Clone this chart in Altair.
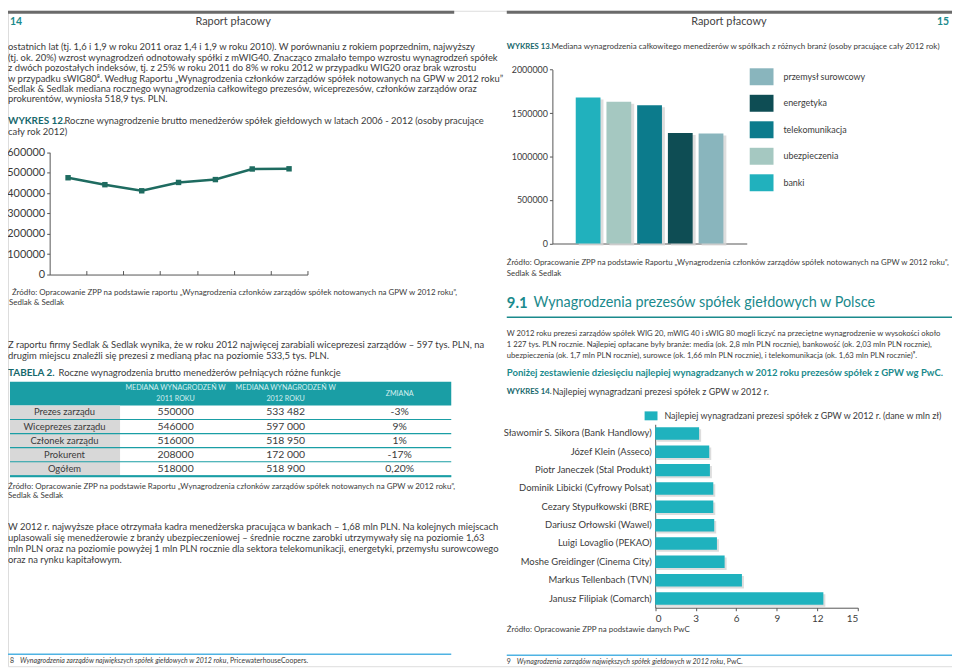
import altair as alt
import pandas as pd

# ---------------- data ----------------
years = ["2006", "2007", "2008", "2009", "2010", "2011", "2012"]
salary = [475000, 441000, 411000, 452000, 466000, 518000, 518900]
salary_ticks = [0, 100000, 200000, 300000, 400000, 500000, 600000]

sectors = ["banki", "ubezpieczenia", "telekomunikacja", "energetyka", "przemysł surowcowy"]
sector_values = [1680000, 1630000, 1590000, 1270000, 1265000]
sector_colors = ["#21b1bd", "#a5c8c1", "#0c7b8c", "#0e4d54", "#89b5bd"]
legend_order = ["przemysł surowcowy", "energetyka", "telekomunikacja", "ubezpieczenia", "banki"]
sector_ticks = [0, 500000, 1000000, 1500000, 2000000]

ceo_names = [
    "Sławomir S. Sikora (Bank Handlowy)",
    "Józef Klein (Asseco)",
    "Piotr Janeczek (Stal Produkt)",
    "Dominik Libicki (Cyfrowy Polsat)",
    "Cezary Stypułkowski (BRE)",
    "Dariusz Orłowski (Wawel)",
    "Luigi Lovaglio (PEKAO)",
    "Moshe Greidinger (Cinema City)",
    "Markus Tellenbach (TVN)",
    "Janusz Filipiak (Comarch)",
]
ceo_pay = [3.25, 4.0, 4.05, 4.3, 4.3, 4.37, 4.57, 5.14, 6.42, 12.45]
ceo_ticks = [0, 3, 6, 9, 12, 15]

roles = ["Prezes zarządu", "Wiceprezes zarządu", "Członek zarządu", "Prokurent", "Ogółem"]
median_2011 = ["550000", "546000", "516000", "208000", "518000"]
median_2012 = ["533 482", "597 000", "518 950", "172 000", "518 900"]
change = ["-3%", "9%", "1%", "-17%", "0,20%"]

# ---------------- style ----------------
FONT = "Lato"
TXT = "#3b3b3b"
AX = "#555555"
TEAL_H = "#17686c"
TEAL_P = "#1a8a8c"
TEAL_T = "#1a9ea5"
LINE_C = "#1e6b60"
BAR14 = "#1fb2be"
SHADOW = "#d4d4d4"
W, H = 952, 661

ONE = pd.DataFrame({"k": [0]})
layers = []


def T(x, y, s, size=9, color=TXT, weight="normal", style="normal", align="left", font=FONT):
    layers.append(
        alt.Chart(ONE).mark_text(align=align, baseline="middle", font=font, fontSize=size,
                                 color=color, fontWeight=weight, fontStyle=style)
        .encode(x=alt.value(x), y=alt.value(y), text=alt.value(s))
    )


def R(x1, x2, y, color, width=1.0):
    layers.append(
        alt.Chart(ONE).mark_rule(color=color, strokeWidth=width)
        .encode(x=alt.value(x1), x2=alt.value(x2), y=alt.value(y))
    )


def B(x1, x2, y1, y2, color):
    layers.append(
        alt.Chart(ONE).mark_rect(color=color)
        .encode(x=alt.value(x1), x2=alt.value(x2), y=alt.value(y1), y2=alt.value(y2))
    )


# ---------------- page header ----------------
B(0, 450, 0, 3, "#6a6a6a")
B(503, W, 0, 3, "#6a6a6a")
T(2, 11, "14", size=10.5, color=TEAL_P, weight="bold")
T(227, 11, "Raport płacowy", size=11, color="#444444", align="center")
T(727, 11, "Raport płacowy", size=11, color="#444444", align="center")
T(949, 11, "15", size=10.5, color=TEAL_P, weight="bold", align="right")

# ---------------- left column text ----------------
BODY_L = 9.5
p1 = [
    "ostatnich lat (tj. 1,6 i 1,9 w roku 2011 oraz 1,4 i 1,9 w roku 2010). W porównaniu z rokiem poprzednim, najwyższy",
    "(tj. ok. 20%) wzrost wynagrodzeń odnotowały spółki z mWIG40. Znacząco zmalało tempo wzrostu wynagrodzeń spółek",
    "z dwóch pozostałych indeksów, tj. z 25% w roku 2011 do 8% w roku 2012 w przypadku WIG20 oraz brak wzrostu",
    "w przypadku sWIG80⁸. Według Raportu „Wynagrodzenia członków zarządów spółek notowanych na GPW w 2012 roku”",
    "Sedlak & Sedlak mediana rocznego wynagrodzenia całkowitego prezesów, wiceprezesów, członków zarządów oraz",
    "prokurentów, wyniosła 518,9 tys. PLN.",
]
for i, s in enumerate(p1):
    T(0, 37 + i * 10.45, s, size=BODY_L)

T(0, 111, "WYKRES 12.", size=10, color=TEAL_H, weight="bold")
T(57, 111, "Roczne wynagrodzenie brutto menedżerów spółek giełdowych w latach 2006 - 2012 (osoby pracujące", size=BODY_L)
T(0, 122, "cały rok 2012)", size=BODY_L)

T(4, 285, "Źródło: Opracowanie ZPP na podstawie raportu „Wynagrodzenia członków zarządów spółek notowanych na GPW w 2012 roku”,", size=8)
T(1, 295, "Sedlak & Sedlak", size=8)

T(0, 337, "Z raportu firmy Sedlak & Sedlak wynika, że w roku 2012 najwięcej zarabiali wiceprezesi zarządów – 597 tys. PLN, na", size=BODY_L)
T(0, 348, "drugim miejscu znaleźli się prezesi z medianą płac na poziomie 533,5 tys. PLN.", size=BODY_L)

T(0, 365, "TABELA 2.", size=10, color=TEAL_H, weight="bold")
T(51, 365, "Roczne wynagrodzenia brutto menedżerów pełniących różne funkcje", size=BODY_L)

# ---------------- table ----------------
B(2, 447, 374, 398, TEAL_T)
HC = "#d6f0f0"
T(169, 380.5, "MEDIANA WYNAGRODZEŃ W", size=7.2, color=HC, align="center")
T(169, 392, "2011 ROKU", size=7.2, color=HC, align="center")
T(280, 380.5, "MEDIANA WYNAGRODZEŃ W", size=7.2, color=HC, align="center")
T(280, 392, "2012 ROKU", size=7.2, color=HC, align="center")
T(395, 386, "ZMIANA", size=7.2, color=HC, align="center")

tab = pd.DataFrame({"role": roles, "m11": median_2011, "m12": median_2012, "chg": change})
row_scale = alt.Scale(type="band", domain=roles, range=[398, 469], paddingInner=0, paddingOuter=0)
layers.append(
    alt.Chart(tab).mark_rect(color="#d8d8d8")
    .encode(y=alt.Y("role:N", scale=row_scale, axis=None), x=alt.value(2), x2=alt.value(113))
)
for col, xpos, sz in [("role", 57, 9.5), ("m11", 169, 10.5), ("m12", 280, 10.5), ("chg", 395, 10.5)]:
    layers.append(
        alt.Chart(tab).mark_text(align="center", baseline="middle", font=FONT, fontSize=sz, color=TXT)
        .encode(y=alt.Y("role:N", scale=row_scale, axis=None), x=alt.value(xpos), text=f"{col}:N")
    )
layers.append(
    alt.Chart(tab).mark_rule(color=TEAL_T, strokeWidth=1.2, yOffset=7.1)
    .encode(y=alt.Y("role:N", scale=row_scale, axis=None), x=alt.value(2), x2=alt.value(447))
)
R(2, 447, 469.5, TEAL_T, 1.8)

T(0, 480, "Źródło: Opracowanie ZPP na podstawie Raportu „Wynagrodzenia członków zarządów spółek notowanych na GPW w 2012 roku”,", size=8)
T(0, 489, "Sedlak & Sedlak", size=8)

p3 = [
    "W 2012 r. najwyższe płace otrzymała kadra menedżerska pracująca w bankach – 1,68 mln PLN. Na kolejnych miejscach",
    "uplasowali się menedżerowie z branży ubezpieczeniowej – średnie roczne zarobki utrzymywały się na poziomie 1,63",
    "mln PLN oraz na poziomie powyżej 1 mln PLN rocznie dla sektora telekomunikacji, energetyki, przemysłu surowcowego",
    "oraz na rynku kapitałowym.",
]
for i, s in enumerate(p3):
    T(0, 521 + i * 11, s, size=BODY_L)

R(0, 447, 649, "#4fb3e3", 1.5)
T(2, 656, "8", size=7)
T(12, 656, "Wynagrodzenia zarządów największych spółek giełdowych w 2012 roku", size=7, style="italic")
T(220.5, 656, ", PricewaterhouseCoopers.", size=7)

# ---------------- line chart (Wykres 12) ----------------
line_df = pd.DataFrame({"year": years, "salary": salary})
layers.append(
    alt.Chart(line_df).mark_line(
        color=LINE_C, strokeWidth=2.6,
        point=alt.OverlayMarkDef(shape="square", size=30, filled=True, color=LINE_C),
    ).encode(
        x=alt.X("year:O", scale=alt.Scale(type="point", domain=years, range=[42, 302], padding=0.5),
                axis=alt.Axis(orient="top", offset=-266, labels=False, title=None, tickSize=4,
                              tickOffset=18.57, domainColor=AX, tickColor=AX, grid=False)),
        y=alt.Y("salary:Q", scale=alt.Scale(domain=[0, 600000], range=[266, 142.7], nice=False),
                axis=alt.Axis(orient="left", offset=-42, values=salary_ticks, format="d", title=None,
                              labelFont=FONT, labelFontSize=11, labelColor=TXT, tickSize=3,
                              domainColor=AX, tickColor=AX, grid=False, labelPadding=2)),
    )
)

# ---------------- right column text ----------------
T(503, 37, "WYKRES 13.", size=7.8, color=TEAL_H, weight="bold")
T(548, 37, "Mediana wynagrodzenia całkowitego menedżerów w spółkach z różnych branż (osoby pracujące cały 2012 rok)", size=8.1)

T(503, 254, "Źródło: Opracowanie ZPP na podstawie Raportu „Wynagrodzenia członków zarządów spółek notowanych na GPW w 2012 roku”,", size=7.9)
T(503, 265, "Sedlak & Sedlak", size=7.9)

T(503, 295, "9.1", size=15, color=TEAL_P, weight="bold")
T(530, 295, "Wynagrodzenia prezesów spółek giełdowych w Polsce", size=14.5, color=TEAL_P)
R(503, W, 309, TEAL_P, 1.5)

p4 = [
    "W 2012 roku prezesi zarządów spółek WIG 20, mWIG 40 i sWIG 80 mogli liczyć na przeciętne wynagrodzenie w wysokości około",
    "1 227 tys. PLN rocznie. Najlepiej opłacane były branże: media (ok. 2,8 mln PLN rocznie), bankowość (ok. 2,03 mln PLN rocznie),",
    "ubezpieczenia (ok. 1,7 mln PLN rocznie), surowce (ok. 1,66 mln PLN rocznie),  i telekomunikacja (ok. 1,63 mln PLN rocznie)⁹.",
]
for i, s in enumerate(p4):
    T(503, 326 + i * 11, s, size=7.75)

T(503, 365, "Poniżej zestawienie dziesięciu najlepiej wynagradzanych w 2012 roku prezesów spółek z GPW wg PwC.",
  size=9.6, color=TEAL_P, weight="bold")
T(503, 384, "WYKRES 14.", size=7.8, color=TEAL_H, weight="bold")
T(549, 384, "Najlepiej wynagradzani prezesi spółek z GPW w 2012 r.", size=9)

T(503, 624, "Źródło: Opracowanie ZPP na podstawie danych PwC", size=8)

R(503, W, 650, "#4fb3e3", 1.5)
T(503, 657, "9", size=7)
T(513, 657, "Wynagrodzenia zarządów największych spółek giełdowych w 2012 roku", size=7, style="italic")
T(721.5, 657, ", PwC.", size=7)

# ---------------- bar chart (Wykres 13) ----------------
df13 = pd.DataFrame({"sector": sectors, "value": sector_values})
x13 = alt.Scale(type="band", domain=sectors, range=[549, 745], paddingInner=0.194, paddingOuter=0.76)
y13 = alt.Scale(domain=[0, 2000000], range=[234.7, 59.3], nice=False)
layers.append(
    alt.Chart(df13).mark_bar(color=SHADOW, xOffset=3, yOffset=2, opacity=0.8).encode(
        x=alt.X("sector:N", sort=sectors, scale=x13, axis=None),
        y=alt.Y("value:Q", scale=y13, axis=None),
    )
)
layers.append(
    alt.Chart(df13).mark_bar().encode(
        x=alt.X("sector:N", sort=sectors, scale=x13,
                axis=alt.Axis(orient="bottom", offset=234.7 - H, labels=False, ticks=False, title=None,
                              domainColor=AX, grid=False)),
        y=alt.Y("value:Q", scale=y13,
                axis=alt.Axis(orient="left", offset=-549, values=sector_ticks, format="d", title=None,
                              labelFont=FONT, labelFontSize=9, labelColor=TXT, tickSize=3,
                              domainColor=AX, tickColor=AX, grid=False, labelPadding=2)),
        color=alt.Color("sector:N", scale=alt.Scale(domain=sectors, range=sector_colors), legend=None),
    )
)
leg_scale = alt.Scale(type="band", domain=legend_order, range=[58, 182], paddingInner=0.36, paddingOuter=0)
df_leg = pd.DataFrame({"sector": legend_order})
layers.append(
    alt.Chart(df_leg).mark_rect().encode(
        y=alt.Y("sector:N", scale=leg_scale, axis=None),
        x=alt.value(748), x2=alt.value(772),
        color=alt.Color("sector:N", scale=alt.Scale(domain=sectors, range=sector_colors), legend=None),
    )
)
layers.append(
    alt.Chart(df_leg).mark_text(align="left", baseline="middle", font=FONT, fontSize=9, color=TXT).encode(
        y=alt.Y("sector:N", scale=leg_scale, axis=None),
        x=alt.value(782), text="sector:N",
    )
)

# ---------------- bar chart (Wykres 14) ----------------
B(642, 655, 404, 413, BAR14)
T(662, 408.5, "Najlepiej wynagradzani prezesi spółek z GPW w 2012 r. (dane w mln zł)", size=9)

df14 = pd.DataFrame({"name": ceo_names, "pay": ceo_pay})
y14 = alt.Scale(type="band", domain=ceo_names, range=[417, 602], paddingInner=0.32, paddingOuter=0.16)
x14 = alt.Scale(domain=[0, 15], range=[652.7, 857], nice=False)
layers.append(
    alt.Chart(df14).mark_bar(color=SHADOW, xOffset=2, yOffset=2, opacity=0.8).encode(
        y=alt.Y("name:N", sort=ceo_names, scale=y14, axis=None),
        x=alt.X("pay:Q", scale=x14, axis=None),
    )
)
layers.append(
    alt.Chart(df14).mark_bar(color=BAR14).encode(
        y=alt.Y("name:N", sort=ceo_names, scale=y14,
                axis=alt.Axis(orient="left", offset=-652.7, title=None, ticks=False, labelFont=FONT,
                              labelFontSize=9.5, labelColor=TXT, labelPadding=4, domainColor=AX, labelLimit=300)),
        x=alt.X("pay:Q", scale=x14,
                axis=alt.Axis(orient="bottom", offset=602 - H, values=ceo_ticks, title=None, tickSize=3,
                              labelFont=FONT, labelFontSize=10, labelColor=TXT, domainColor=AX,
                              tickColor=AX, grid=False, labelPadding=3)),
    )
)

chart = (
    alt.layer(*layers)
    .resolve_scale(x="independent", y="independent", color="independent")
    .properties(width=W, height=H, autosize=alt.AutoSizeParams(type="none"), padding=0)
    .configure_view(stroke=None)
    .configure(font=FONT)
)

chart.save("out.html", embed_options={"renderer": "svg", "actions": False})
